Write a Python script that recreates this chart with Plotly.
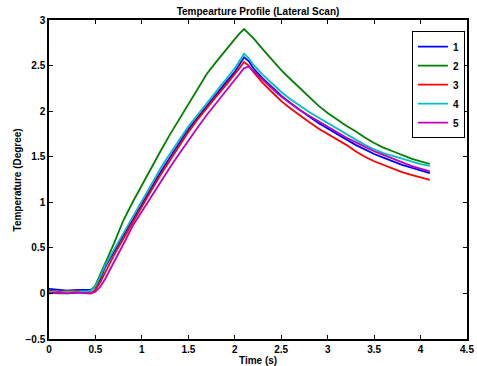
import plotly.graph_objects as go

# Time axis (s)
time_s = [0, 0.1, 0.2, 0.3, 0.4, 0.45, 0.5, 0.55, 0.6, 0.7, 0.8, 0.9, 1.0, 1.1, 1.2, 1.3,
          1.4, 1.5, 1.6, 1.7, 1.8, 1.9, 2.0, 2.05, 2.1, 2.15, 2.2, 2.3, 2.4, 2.5, 2.6, 2.7,
          2.8, 2.9, 3.0, 3.1, 3.2, 3.3, 3.4, 3.5, 3.6, 3.7, 3.8, 3.9, 4.0, 4.1]

scan1 = [0.05, 0.04, 0.03, 0.04, 0.04, 0.04, 0.07, 0.15, 0.28, 0.46, 0.64, 0.81, 0.98, 1.16, 1.33, 1.49,
         1.65, 1.80, 1.93, 2.06, 2.19, 2.31, 2.43, 2.51, 2.59, 2.55, 2.47, 2.36, 2.26, 2.17, 2.09, 2.01,
         1.94, 1.87, 1.81, 1.75, 1.69, 1.63, 1.58, 1.53, 1.49, 1.45, 1.41, 1.38, 1.35, 1.32]
scan2 = [0.01, 0.00, 0.00, 0.01, 0.01, 0.03, 0.09, 0.20, 0.32, 0.55, 0.80, 1.00, 1.19, 1.38, 1.56, 1.74,
         1.91, 2.08, 2.25, 2.41, 2.54, 2.67, 2.79, 2.85, 2.90, 2.85, 2.80, 2.68, 2.56, 2.45, 2.35, 2.25,
         2.15, 2.06, 1.98, 1.91, 1.84, 1.78, 1.71, 1.65, 1.60, 1.56, 1.52, 1.48, 1.45, 1.42]
scan3 = [0.03, 0.02, 0.03, 0.03, 0.01, 0.00, 0.04, 0.12, 0.22, 0.42, 0.60, 0.78, 0.96, 1.13, 1.30, 1.46,
         1.62, 1.77, 1.91, 2.04, 2.16, 2.28, 2.40, 2.47, 2.54, 2.50, 2.43, 2.31, 2.21, 2.11, 2.03, 1.95,
         1.88, 1.81, 1.75, 1.69, 1.63, 1.56, 1.50, 1.45, 1.41, 1.37, 1.33, 1.30, 1.27, 1.245]
scan4 = [0.02, 0.01, 0.02, 0.02, 0.02, 0.03, 0.08, 0.18, 0.30, 0.48, 0.66, 0.83, 1.01, 1.19, 1.37, 1.53,
         1.68, 1.83, 1.96, 2.09, 2.22, 2.35, 2.47, 2.55, 2.63, 2.58, 2.51, 2.40, 2.30, 2.21, 2.13, 2.06,
         1.99, 1.93, 1.87, 1.81, 1.75, 1.69, 1.63, 1.58, 1.54, 1.51, 1.48, 1.45, 1.42, 1.40]
scan5 = [0.00, 0.01, 0.00, 0.01, 0.00, 0.00, 0.02, 0.07, 0.15, 0.34, 0.54, 0.74, 0.90, 1.06, 1.23, 1.38,
         1.53, 1.68, 1.82, 1.96, 2.09, 2.22, 2.35, 2.41, 2.47, 2.49, 2.44, 2.34, 2.25, 2.16, 2.08, 2.01,
         1.95, 1.89, 1.83, 1.77, 1.71, 1.66, 1.61, 1.56, 1.52, 1.48, 1.44, 1.40, 1.37, 1.34]

series_names = ["1", "2", "3", "4", "5"]
series_values = [scan1, scan2, scan3, scan4, scan5]
series_colors = ["#0000ff", "#008000", "#ff0000", "#00bfbf", "#bf00bf"]

x_ticks = [0, 0.5, 1, 1.5, 2, 2.5, 3, 3.5, 4, 4.5]
y_ticks = [-0.5, 0, 0.5, 1, 1.5, 2, 2.5, 3]

FONT = "Liberation Sans"
BOLD10 = dict(family=FONT, size=10, color="black", weight="bold")

fig = go.Figure()
for name, vals, col in zip(series_names, series_values, series_colors):
    fig.add_trace(go.Scatter(x=time_s, y=vals, mode="lines", name=name,
                             line=dict(color=col, width=1.8)))

axis_common = dict(
    showline=True, linecolor="black", linewidth=1.5, mirror="ticks",
    ticks="inside", ticklen=4, tickcolor="black", tickwidth=1,
    showgrid=False, zeroline=False, automargin=False,
    tickfont=BOLD10,
)

fig.update_layout(
    width=477, height=366,
    margin=dict(l=49, r=10, t=20, b=27),
    paper_bgcolor="white", plot_bgcolor="white",
    title=dict(text="Tempearture Profile (Lateral Scan)", x=0.5, xref="paper",
               y=1 - 11 / 366, yref="container", yanchor="middle", xanchor="center",
               font=BOLD10),
    xaxis=dict(range=[0, 4.5], tickvals=x_ticks, ticktext=[f"{v:g}" for v in x_ticks],
               **axis_common),
    yaxis=dict(range=[-0.5, 3], tickvals=y_ticks,
               ticktext=[f"{v:g}".replace("-", "\u2212") for v in y_ticks],
               **axis_common),
    legend=dict(x=0.995, y=0.965, xanchor="right", yanchor="top",
                bordercolor="black", borderwidth=1, bgcolor="white",
                font=BOLD10, tracegroupgap=0, itemwidth=30),
    showlegend=True,
    annotations=[
        dict(text="Time (s)", xref="paper", yref="paper", x=0.5, y=-0.068,
             xanchor="center", yanchor="middle", showarrow=False, font=BOLD10),
        dict(text="Temperature (Degree)", xref="paper", yref="paper", x=-0.0742, y=0.5,
             xanchor="center", yanchor="middle", showarrow=False, textangle=-90, font=BOLD10),
    ],
)

fig.write_html("out.html", post_script="document.body.style.margin='0';",
               config={"displayModeBar": False})
